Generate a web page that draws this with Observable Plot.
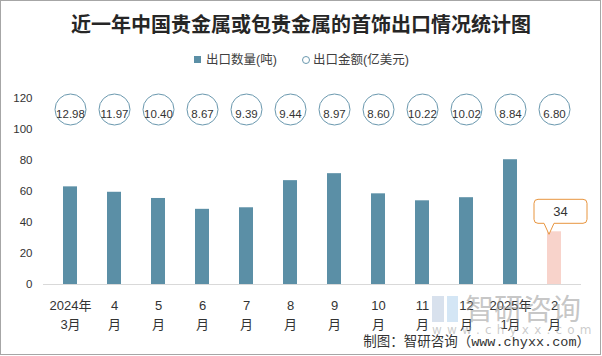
<!DOCTYPE html>
<html>
<head>
<meta charset="utf-8">
<script src="https://cdn.jsdelivr.net/npm/d3@7"></script>
<script src="https://cdn.jsdelivr.net/npm/@observablehq/plot@0.6"></script>
<style>
  html, body { margin: 0; padding: 0; background: #fff; }
  #wrap { position: relative; width: 602px; height: 356px; overflow: hidden; font-family: "Liberation Sans", "Noto Sans CJK SC", sans-serif; }
  #wrap svg { position: absolute; left: 0; top: 0; }
  .abs { position: absolute; white-space: nowrap; }
  #title { left: 0; width: 602px; top: 12px; text-align: center; font-family: "Noto Sans CJK SC", sans-serif; font-weight: bold; font-size: 20px; line-height: 24px; color: #262626; }
  .leg { top: 51px; font-size: 12.5px; line-height: 18px; color: #404040; font-family: "Liberation Sans", "Noto Sans CJK SC", sans-serif; }
  #caption { right: 12px; top: 334px; font-size: 13.5px; line-height: 18px; color: #333; font-family: "Liberation Mono", "Noto Sans CJK SC", monospace; }
  #frame { left: 0; top: 0; width: 599px; height: 353px; border: 1px solid #a6a6a6; pointer-events: none; }
  #wm1 { left: 465px; top: 290px; font-size: 29px; line-height: 34px; color: rgba(150,150,150,0.55); font-family: "Noto Sans CJK SC", sans-serif; }
  #wm2 { left: 432px; top: 322px; font-size: 12px; line-height: 16px; letter-spacing: 5.2px; color: rgba(160,160,160,0.55); font-family: "DejaVu Sans", sans-serif; }
</style>
</head>
<body>
<div id="wrap"></div>
<script>
// ---- data ----
const months = ["2024年\n3月", "4\n月", "5\n月", "6\n月", "7\n月", "8\n月", "9\n月", "10\n月", "11\n月", "12\n月", "2025年\n1月", "2\n月"];
const quantity = [63, 59.5, 55.5, 48.5, 49.5, 67, 71.5, 58.5, 54, 56, 80.5, 34];
const amount = [12.98, 11.97, 10.40, 8.67, 9.39, 9.44, 8.97, 8.60, 10.22, 10.02, 8.84, 6.80];
const yTicks = [0, 20, 40, 60, 80, 100, 120];
const seriesNames = ["出口数量(吨)", "出口金额(亿美元)"];
const titleText = "近一年中国贵金属或包贵金属的首饰出口情况统计图";
const captionText = "制图：智研咨询（www.chyxx.com）";

const barColor = "#5b8fa6";
const lastColor = "#f8d3cb";
const circleStroke = "#6a98ae";
const calloutStroke = "#e8953f";

const rows = months.map((m, i) => ({month: m, qty: quantity[i], amt: amount[i], last: i === months.length - 1}));
const lastRow = rows[rows.length - 1];

// callout for the highlighted (last) bar, positioned via the plot's scales
function callout(index, scales) {
  const x = scales.x(lastRow.month) + scales.x.bandwidth() / 2 - 5;
  const y = scales.y(lastRow.qty) + 3;
  const g = d3.create("svg:g");
  const L = x - 15, R = x + 38, T = y - 35, B = y - 11, r = 4;
  const p = `M${L + r},${T} H${R - r} Q${R},${T} ${R},${T + r} V${B - r} Q${R},${B} ${R - r},${B}
    H${x + 5} L${x},${y} L${x - 5},${B} H${L + r} Q${L},${B} ${L},${B - r} V${T + r} Q${L},${T} ${L + r},${T} Z`;
  g.append("path").attr("d", p).attr("fill", "white").attr("stroke", calloutStroke).attr("stroke-width", 1);
  g.append("text").attr("x", (L + R) / 2).attr("y", (T + B) / 2).attr("dy", "0.35em")
    .attr("text-anchor", "middle").attr("font-size", 13).attr("fill", "#333").text(String(lastRow.qty));
  return g.node();
}

const chart = Plot.plot({
  width: 602,
  height: 356,
  marginLeft: 43,
  marginRight: 21,
  marginTop: 98,
  marginBottom: 72,
  style: {fontFamily: "'Liberation Sans', 'Noto Sans CJK SC', sans-serif", fontSize: "12px", color: "#333", background: "transparent"},
  x: {domain: months, paddingInner: 0.69, paddingOuter: 0.345, label: null},
  y: {domain: [0, 120], label: null},
  marks: [
    Plot.barY(rows, {x: "month", y: "qty", fill: d => d.last ? lastColor : barColor}),
    Plot.ruleY([0], {stroke: "#d9d9d9", strokeWidth: 1}),
    Plot.dot(rows, {x: "month", frameAnchor: "top", dy: 11, r: 15.5, stroke: circleStroke, fill: "white", strokeWidth: 1}),
    Plot.text(rows, {x: "month", frameAnchor: "top", dy: 11, text: d => d.amt.toFixed(2), fontSize: 11.5, fill: "#333"}),
    Plot.axisY({ticks: yTicks, tickSize: 0, tickPadding: 11, fontSize: 11.5, label: null}),
    Plot.axisX({tickSize: 0, tickPadding: 13, fontSize: 13, lineHeight: 1.4, label: null}),
    callout
  ]
});

const wrap = document.getElementById("wrap");
wrap.appendChild(chart);

function addDiv(id, cls, text) {
  const d = document.createElement("div");
  if (id) d.id = id;
  d.className = "abs " + (cls || "");
  if (text != null) d.textContent = text;
  wrap.appendChild(d);
  return d;
}

addDiv("title", "", titleText);

// legend
const leg1 = addDiv(null, "leg", seriesNames[0]);
leg1.style.left = "206px";
const sq = addDiv(null, "");
Object.assign(sq.style, {left: "194px", top: "56px", width: "7px", height: "7px", background: barColor});
const leg2 = addDiv(null, "leg", seriesNames[1]);
leg2.style.left = "313px";
const cc = addDiv(null, "");
Object.assign(cc.style, {left: "302px", top: "56px", width: "6px", height: "6px", border: "1px solid " + circleStroke, borderRadius: "50%"});

// watermark
const logoA = addDiv(null, "");
Object.assign(logoA.style, {left: "432px", top: "296px", width: "12px", height: "26px", background: "rgba(190,205,225,0.6)"});
const logoB = addDiv(null, "");
Object.assign(logoB.style, {left: "447px", top: "296px", width: "11px", height: "26px", background: "rgba(170,205,235,0.5)"});
addDiv("wm1", "", "智研咨询");
addDiv("wm2", "", "www.chyxx.com");

addDiv("caption", "", captionText);
addDiv("frame", "");
</script>
</body>
</html>
